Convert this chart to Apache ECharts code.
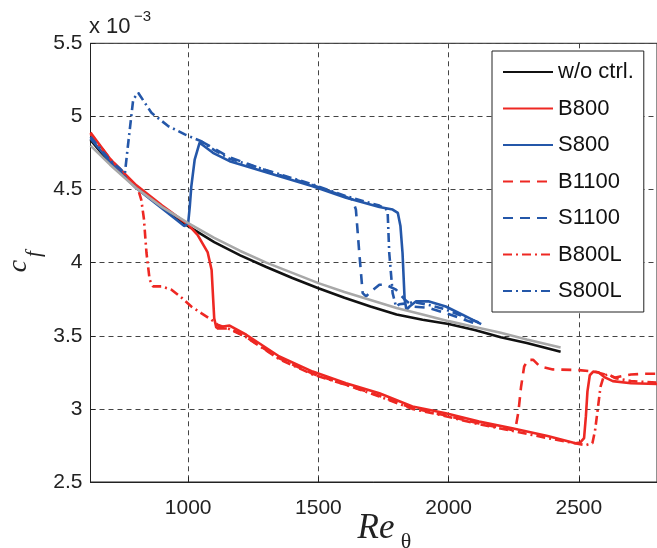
<!DOCTYPE html>
<html>
<head>
<meta charset="utf-8">
<script src="https://cdn.jsdelivr.net/npm/echarts@6/dist/echarts.min.js"></script>
<style>
html,body{margin:0;padding:0;background:#fff;}
#chart{width:657px;height:548px;}
</style>
</head>
<body>
<div id="chart"></div>
<script>
// ---- data (cf in units of 1e-3) ----
const xTicks = [1000, 1500, 2000, 2500];
const yTicks = ['2.5', '3', '3.5', '4', '4.5', '5', '5.5'];

const reBase = [625, 700, 800, 900, 1000, 1100, 1200, 1300, 1400, 1500, 1600, 1700, 1800, 1900, 2000, 2100, 2200, 2300, 2430];
const cfNoCtrl = [4.84, 4.68, 4.52, 4.38, 4.25, 4.14, 4.05, 3.97, 3.895, 3.825, 3.76, 3.70, 3.645, 3.61, 3.58, 3.54, 3.49, 3.45, 3.39];
const cfCorr = [4.80, 4.67, 4.51, 4.38, 4.27, 4.17, 4.08, 4.00, 3.93, 3.86, 3.80, 3.745, 3.69, 3.645, 3.60, 3.56, 3.52, 3.475, 3.42];

const reB800 = [625, 700, 800, 900, 1000, 1036, 1075, 1090, 1096, 1100, 1108, 1121, 1159, 1223, 1350, 1478, 1606, 1734, 1861, 1989, 2117, 2244, 2380, 2487, 2505, 2520, 2527, 2533, 2542, 2555, 2575, 2600, 2630, 2700, 2800];
const cfB800 = [4.89, 4.71, 4.53, 4.39, 4.26, 4.19, 4.07, 3.95, 3.75, 3.62, 3.555, 3.56, 3.57, 3.507, 3.358, 3.255, 3.176, 3.107, 3.016, 2.97, 2.913, 2.868, 2.815, 2.765, 2.77, 2.80, 2.95, 3.12, 3.23, 3.255, 3.25, 3.215, 3.19, 3.175, 3.17];

const reS800 = [625, 700, 800, 900, 950, 985, 1000, 1006, 1012, 1025, 1044, 1050, 1095, 1159, 1223, 1350, 1478, 1606, 1734, 1785, 1805, 1815, 1823, 1831, 1838, 1850, 1874, 1925, 1989, 2053, 2125];
const cfS800 = [4.85, 4.69, 4.51, 4.37, 4.30, 4.25, 4.27, 4.38, 4.52, 4.705, 4.82, 4.83, 4.751, 4.694, 4.66, 4.591, 4.522, 4.443, 4.381, 4.363, 4.34, 4.25, 4.066, 3.75, 3.678, 3.70, 3.735, 3.735, 3.70, 3.644, 3.58];

const reB1100 = [1110, 1160, 1223, 1350, 1478, 1606, 1734, 1861, 1989, 2117, 2244, 2258, 2268, 2278, 2290, 2305, 2325, 2350, 2400, 2500, 2560, 2600, 2640, 2700, 2750, 2800];
const cfB1100 = [3.55, 3.55, 3.49, 3.345, 3.24, 3.165, 3.09, 3.005, 2.955, 2.9, 2.855, 2.88, 2.98, 3.15, 3.29, 3.335, 3.335, 3.29, 3.27, 3.265, 3.255, 3.235, 3.215, 3.235, 3.24, 3.24];

const reS1100 = [1050, 1100, 1159, 1223, 1300, 1350, 1478, 1606, 1631, 1644, 1657, 1670, 1683, 1700, 1734, 1759, 1798, 1830, 1863, 1925, 1989, 2053, 2117];
const cfS1100 = [4.83, 4.78, 4.72, 4.68, 4.63, 4.60, 4.53, 4.45, 4.432, 4.363, 4.066, 3.792, 3.769, 3.80, 3.849, 3.849, 3.815, 3.75, 3.70, 3.69, 3.655, 3.615, 3.575];

const reB800L = [625, 700, 760, 808, 820, 830, 840, 852, 865, 897, 936, 975, 1012, 1050, 1089, 1113, 1160, 1223, 1350, 1478, 1606, 1734, 1861, 1989, 2117, 2244, 2380, 2500, 2526, 2552, 2562, 2572, 2583, 2595, 2610, 2640, 2700, 2800];
const cfB800L = [4.88, 4.71, 4.60, 4.50, 4.43, 4.30, 4.066, 3.884, 3.838, 3.838, 3.815, 3.76, 3.70, 3.655, 3.61, 3.575, 3.545, 3.49, 3.34, 3.235, 3.165, 3.085, 3.0, 2.95, 2.895, 2.85, 2.80, 2.76, 2.752, 2.765, 2.85, 2.99, 3.15, 3.22, 3.24, 3.21, 3.19, 3.18];

const reS800L = [625, 700, 740, 757, 770, 789, 808, 859, 923, 987, 1050, 1100, 1159, 1223, 1350, 1478, 1606, 1734, 1760, 1766, 1772, 1785, 1798, 1810, 1830, 1870, 1925, 1989, 2053, 2117];
const cfS800L = [4.86, 4.70, 4.64, 4.61, 4.82, 5.116, 5.162, 5.025, 4.934, 4.877, 4.83, 4.77, 4.71, 4.675, 4.605, 4.535, 4.455, 4.39, 4.365, 4.34, 4.066, 3.792, 3.70, 3.715, 3.72, 3.73, 3.71, 3.68, 3.635, 3.59];

const legendNames = ['w/o ctrl.', 'B800', 'S800', 'B1100', 'S1100', 'B800L', 'S800L'];

// ---- styles ----
const RED = '#ee2823', BLUE = '#2457a9', BLACK = '#111111', GRAY = '#a8a8a8';
const DASH = [10, 7], DASHDOT = [9, 4, 2, 4];
const LW = 2.6;
const SANS = '"Liberation Sans", Arial, Helvetica, sans-serif';
const SERIF = '"Liberation Serif", "Times New Roman", serif';

function zip(xs, ys) { return xs.map((x, i) => [x, ys[i]]); }
function line(name, xs, ys, color, type, z) {
  return {
    name: name, type: 'line', data: zip(xs, ys), showSymbol: false, symbol: 'none',
    lineStyle: { color: color, width: LW, type: type }, itemStyle: { color: color },
    z: z, animation: false
  };
}

const chart = echarts.init(document.getElementById('chart'), null, { renderer: 'canvas' });
chart.setOption({
  backgroundColor: '#fff',
  animation: false,
  grid: { left: 90.5, top: 43.3, width: 567.7, height: 438.7, show: true, borderColor: '#222', borderWidth: 1, backgroundColor: 'transparent' },
  xAxis: {
    type: 'value', min: 625, max: 2800,
    axisLine: { show: true, lineStyle: { color: '#222', width: 1 } },
    axisTick: { show: true, inside: true, length: 5, lineStyle: { color: '#222' } },
    axisLabel: {
      color: '#222', fontSize: 21, fontFamily: SANS, margin: 16,
      showMinLabel: false, showMaxLabel: false,
      formatter: v => (xTicks.indexOf(v) >= 0 ? String(v) : '')
    },
    splitLine: { show: true, lineStyle: { color: '#444', width: 1, type: [5, 4] } }
  },
  yAxis: {
    type: 'value', min: 2.5, max: 5.5, interval: 0.5,
    axisLine: { show: true, lineStyle: { color: '#222', width: 1 } },
    axisTick: { show: true, inside: true, length: 5, lineStyle: { color: '#222' } },
    axisLabel: {
      color: '#222', fontSize: 21, fontFamily: SANS, margin: 8,
      formatter: (v) => { const s = String(Math.round(v * 10) / 10); return yTicks.indexOf(s) >= 0 ? s : ''; }
    },
    splitLine: { show: true, lineStyle: { color: '#444', width: 1, type: [5, 4] } }
  },
  legend: {
    data: legendNames, orient: 'vertical', left: 492, top: 51,
    backgroundColor: '#fff', borderColor: '#222', borderWidth: 1,
    padding: [10, 10, 10, 10], itemWidth: 50, itemHeight: 14, itemGap: 14.5,
    itemStyle: { opacity: 0 },
    textStyle: { color: '#111', fontSize: 22, fontFamily: SANS, lineHeight: 22 },
    z: 20
  },
  series: [
    line('w/o ctrl.', reBase, cfNoCtrl, BLACK, 'solid', 2),
    line('B800', reB800, cfB800, RED, 'solid', 3),
    line('S800', reS800, cfS800, BLUE, 'solid', 3),
    line('B1100', reB1100, cfB1100, RED, DASH, 3),
    line('S1100', reS1100, cfS1100, BLUE, DASH, 3),
    line('B800L', reB800L, cfB800L, RED, DASHDOT, 3),
    line('S800L', reS800L, cfS800L, BLUE, DASHDOT, 3),
    line('correlation', reBase, cfCorr, GRAY, 'solid', 4)
  ],
  graphic: [
    { type: 'text', left: 89, top: 16, z: 30, style: { text: 'x 10', font: '22px ' + SANS, fill: '#222' } },
    { type: 'text', left: 134, top: 9, z: 30, style: { text: '\u22123', font: '15px ' + SANS, fill: '#222' } },
    { type: 'text', x: 19, y: 266, rotation: Math.PI / 2, z: 30, style: { text: 'c', font: 'italic 28px ' + SERIF, fill: '#222', align: 'center', verticalAlign: 'middle' } },
    { type: 'text', x: 34, y: 254, rotation: Math.PI / 2, z: 30, style: { text: 'f', font: 'italic 21px ' + SERIF, fill: '#222', align: 'center', verticalAlign: 'middle' } },
    { type: 'text', x: 376, y: 529, z: 30, style: { text: 'Re', font: 'italic 35px ' + SERIF, fill: '#222', align: 'center', verticalAlign: 'middle' } },
    { type: 'text', x: 406, y: 542, z: 30, style: { text: '\u03b8', font: '22px ' + SERIF, fill: '#222', align: 'center', verticalAlign: 'middle' } }
  ]
});
</script>
</body>
</html>
